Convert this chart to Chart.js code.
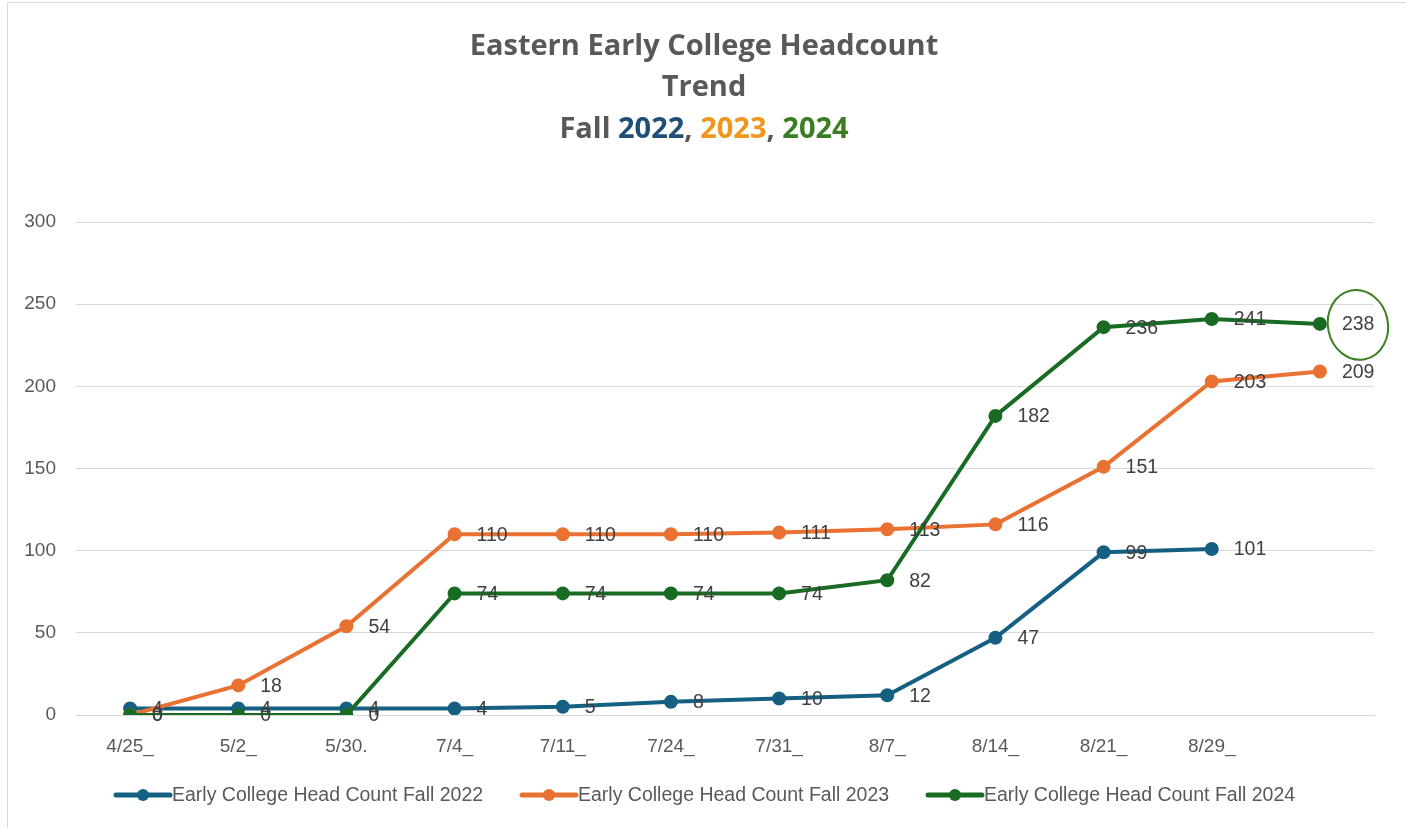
<!DOCTYPE html>
<html>
<head>
<meta charset="utf-8">
<script src="https://cdn.jsdelivr.net/npm/chart.js@4.4.1/dist/chart.umd.min.js"></script>
<style>
  html, body { margin: 0; padding: 0; background: #fff; }
  #wrap { position: relative; width: 1406px; height: 828px; }
</style>
</head>
<body>
<div id="wrap"><canvas id="headcountChart" width="1406" height="828"></canvas></div>
<script>
// week labels as in the sheet
const weeks = ["4/25_", "5/2_", "5/30.", "7/4_", "7/11_", "7/24_", "7/31_", "8/7_", "8/14_", "8/21_", "8/29_", ""];

const fall2022 = [4, 4, 4, 4, 5, 8, 10, 12, 47, 99, 101, null];
const fall2023 = [0, 18, 54, 110, 110, 110, 111, 113, 116, 151, 203, 209];
const fall2024 = [0, 0, 0, 74, 74, 74, 74, 82, 182, 236, 241, 238];

const seriesNames = [
  "Early College Head Count Fall 2022",
  "Early College Head Count Fall 2023",
  "Early College Head Count Fall 2024",
];
const seriesColors = ["#156082", "#E97132", "#196B24"];

const yTicks = [0, 50, 100, 150, 200, 250, 300];

function makeDataset(i, values, order) {
  return {
    label: seriesNames[i],
    data: values,
    borderColor: seriesColors[i],
    backgroundColor: seriesColors[i],
    pointBackgroundColor: seriesColors[i],
    pointBorderColor: seriesColors[i],
    borderWidth: 4,
    pointRadius: 5,
    pointHoverRadius: 5,
    tension: 0,
    spanGaps: false,
    order: order,
  };
}

// title with coloured years + border of the sheet
const titlePlugin = {
  id: "titlePlugin",
  beforeDraw(chart) {
    let ctx = chart.ctx;
    ctx.save();
    ctx.fillStyle = "#fff";
    ctx.fillRect(0, 0, chart.width, chart.height);
    ctx.strokeStyle = "#d9d9d9";
    ctx.lineWidth = 1;
    ctx.beginPath();
    ctx.moveTo(7.5, 828);
    ctx.lineTo(7.5, 2.5);
    ctx.lineTo(1406, 2.5);
    ctx.stroke();
    ctx.restore();
  },
  afterDraw(chart) {
    let ctx = chart.ctx;
    ctx.save();
    ctx.font = "bold 29px 'Open Sans'";
    ctx.textBaseline = "middle";
    ctx.textAlign = "center";
    ctx.fillStyle = "#595959";
    let cx = 704;
    ctx.fillText("Eastern Early College Headcount", cx, 47);
    ctx.fillText("Trend", cx, 88);

    let parts = [
      ["Fall ", "#595959"],
      ["2022", "#1F4E79"],
      [", ", "#595959"],
      ["2023", "#F0961C"],
      [", ", "#595959"],
      ["2024", "#3A7D22"],
    ];
    let total = 0;
    parts.forEach((p) => (total += ctx.measureText(p[0]).width));
    let x = cx - total / 2;
    ctx.textAlign = "left";
    parts.forEach((p) => {
      ctx.fillStyle = p[1];
      ctx.fillText(p[0], x, 130);
      x += ctx.measureText(p[0]).width;
    });
    ctx.restore();
  },
};

// value labels to the right of each point
const valueLabels = {
  id: "valueLabels",
  afterDatasetsDraw(chart) {
    let ctx = chart.ctx;
    ctx.save();
    ctx.font = "19.5px 'Liberation Sans'";
    ctx.fillStyle = "#404040";
    ctx.textAlign = "left";
    ctx.textBaseline = "middle";
    chart.data.datasets.forEach((ds, di) => {
      let meta = chart.getDatasetMeta(di);
      meta.data.forEach((pt, i) => {
        let v = ds.data[i];
        if (v === null || v === undefined) return;
        ctx.fillText(String(v), pt.x + 22, pt.y + 1);
      });
    });

    // circle round the latest 2024 number
    let meta24 = chart.getDatasetMeta(2);
    let last = meta24.data[meta24.data.length - 1];
    ctx.strokeStyle = "#3A7D22";
    ctx.lineWidth = 2;
    ctx.beginPath();
    ctx.ellipse(last.x + 38, last.y + 1, 30, 35, -0.2, 0, Math.PI * 2);
    ctx.stroke();
    ctx.restore();
  },
};

// excel style legend under the axis
const legendRow = {
  id: "legendRow",
  afterDraw(chart) {
    let ctx = chart.ctx;
    ctx.save();
    ctx.font = "19.5px 'Liberation Sans'";
    ctx.textBaseline = "middle";
    ctx.textAlign = "left";
    let lineW = 54;
    let gap = 2;
    let spacing = 406;
    let startX = 116;
    let y = 795;
    chart.data.datasets.forEach((ds, i) => {
      let x = startX + i * spacing;
      ctx.strokeStyle = ds.borderColor;
      ctx.lineWidth = 5;
      ctx.lineCap = "round";
      ctx.beginPath();
      ctx.moveTo(x, y);
      ctx.lineTo(x + lineW, y);
      ctx.stroke();
      ctx.fillStyle = ds.borderColor;
      ctx.beginPath();
      ctx.arc(x + lineW / 2, y, 6, 0, Math.PI * 2);
      ctx.fill();
      ctx.fillStyle = "#595959";
      ctx.fillText(ds.label, x + lineW + gap, y + 1);
    });
    ctx.restore();
  },
};

let chartData = {
  labels: weeks,
  datasets: [
    makeDataset(0, fall2022, 2),
    makeDataset(1, fall2023, 1),
    makeDataset(2, fall2024, 0),
  ],
};

let options = {
  responsive: false,
  animation: false,
  layout: {
    padding: { top: 222, right: 32, bottom: 63, left: 0 },
  },
  scales: {
    x: {
      offset: true,
      grid: { display: false, drawTicks: false },
      border: { display: true, color: "#d9d9d9", width: 1 },
      ticks: {
        color: "#595959",
        font: { family: "'Liberation Sans'", size: 19 },
        padding: 20,
        maxRotation: 0,
        autoSkip: false,
      },
      afterFit(scale) {
        scale.height = 50;
      },
    },
    y: {
      min: 0,
      max: 300,
      afterBuildTicks(scale) {
        scale.ticks = yTicks.map((v) => ({ value: v }));
      },
      grid: { color: "#d9d9d9", lineWidth: 1, drawTicks: false },
      border: { display: false },
      ticks: {
        color: "#595959",
        font: { family: "'Liberation Sans'", size: 19 },
        padding: 20,
      },
      afterFit(scale) {
        scale.width = 76;
      },
    },
  },
  plugins: {
    title: { display: false },
    tooltip: { enabled: false },
    legend: { display: false },
  },
};

var ctx = document.getElementById("headcountChart").getContext("2d");
var myChart = new Chart(ctx, {
  type: "line",
  data: chartData,
  options: options,
  plugins: [titlePlugin, valueLabels, legendRow],
});
</script>
</body>
</html>
